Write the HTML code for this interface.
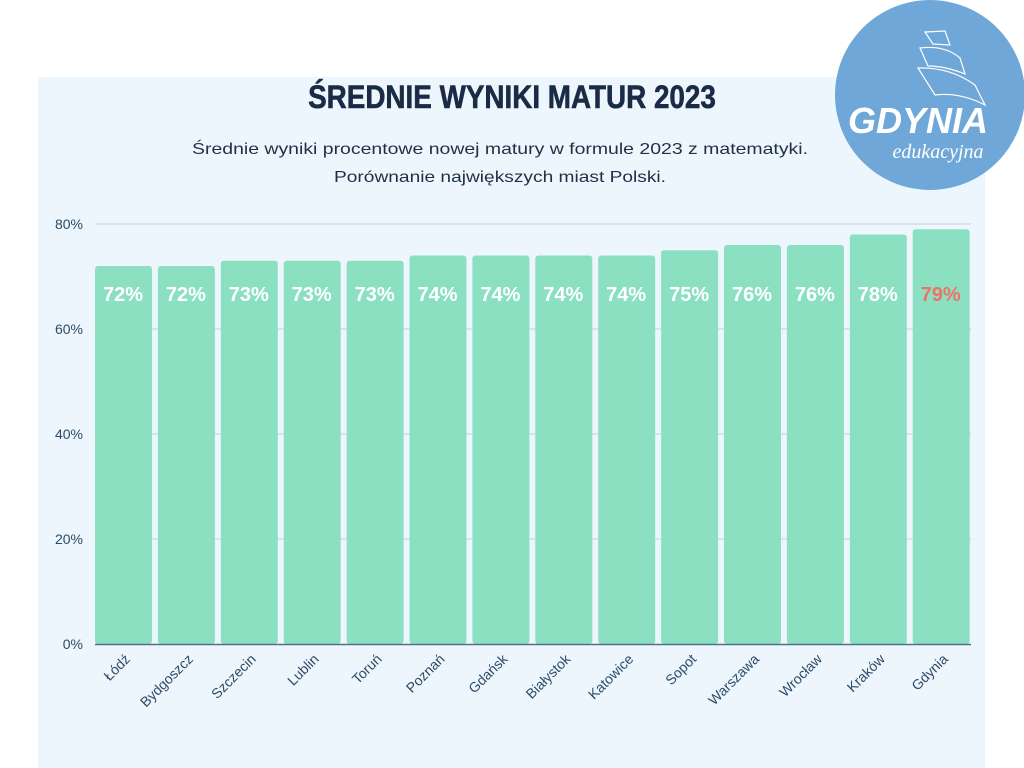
<!DOCTYPE html>
<html><head><meta charset="utf-8"><style>
body{margin:0;width:1024px;height:768px;background:#fff;overflow:hidden;font-family:"Liberation Sans",sans-serif;}
</style></head><body>
<svg width="1024" height="768" xmlns="http://www.w3.org/2000/svg" style="position:absolute;left:0;top:0">
<rect x="38" y="77" width="947" height="691" fill="#eef6fd"/>
<text x="512" y="108" text-anchor="middle" font-family="Liberation Sans Narrow, Liberation Sans, sans-serif" font-weight="bold" font-size="32" fill="#1a2b45" stroke="#1a2b45" stroke-width="0.6" transform="translate(512 0) scale(0.87 1) translate(-512 0)">ŚREDNIE WYNIKI MATUR 2023</text>
<text x="500" y="154" text-anchor="middle" font-size="16" fill="#1f2f44" textLength="616" lengthAdjust="spacingAndGlyphs">Średnie wyniki procentowe nowej matury w formule 2023 z matematyki.</text>
<text x="500" y="182" text-anchor="middle" font-size="16" fill="#1f2f44" textLength="332" lengthAdjust="spacingAndGlyphs">Porównanie największych miast Polski.</text>
<g font-size="14" fill="#2c4a66" text-anchor="end">
<text x="83" y="229">80%</text><text x="83" y="334">60%</text><text x="83" y="439">40%</text><text x="83" y="544">20%</text><text x="83" y="649">0%</text>
</g>
<g stroke="#c4d0dc" stroke-width="1">
<line x1="95" y1="224" x2="971" y2="224"/><line x1="95" y1="329" x2="971" y2="329"/><line x1="95" y1="434" x2="971" y2="434"/><line x1="95" y1="539" x2="971" y2="539"/>
</g>
<g id="bars"></g>
<line x1="95" y1="644.5" x2="971" y2="644.5" stroke="#4f6f8a" stroke-width="1.5"/>
<circle cx="930" cy="95" r="95" fill="#6fa8d8"/>
<g fill="none" stroke="#fff" stroke-width="1.2">
<path d="M925 32 L945 31 L950 45 L933 44 Z"/>
<path d="M920 48 Q945 45 960 58 L965 74 Q945 66 928 66 Z"/>
<path d="M918 68 Q950 67 975 85 L985 105 Q960 92 935 95 Z"/>
</g>
<text x="918" y="133" text-anchor="middle" font-size="36" font-weight="bold" font-style="italic" fill="#fff">GDYNIA</text>
<text x="938" y="158" text-anchor="middle" font-size="20" font-style="italic" font-family="Liberation Serif, serif" fill="#fff">edukacyjna</text>
</svg>
<script>
var d=[["Łódź",72],["Bydgoszcz",72],["Szczecin",73],["Lublin",73],["Toruń",73],["Poznań",74],["Gdańsk",74],["Białystok",74],["Katowice",74],["Sopot",75],["Warszawa",76],["Wrocław",76],["Kraków",78],["Gdynia",79]];
var s="";
d.forEach(function(e,i){var x=95+i*62.9,y=644-e[1]*5.25,c=x+28;
s+='<rect x="'+x+'" y="'+y+'" width="57" height="'+(644-y)+'" rx="3" fill="#8be0c1"/>';
s+='<text x="'+c+'" y="301" text-anchor="middle" font-size="20" font-weight="bold" fill="'+(i==13?'#f07167':'#fff')+'">'+e[1]+'%</text>';
s+='<text transform="translate('+(c+8)+' 660) rotate(-45)" text-anchor="end" font-size="14" fill="#2c4a66">'+e[0]+'</text>';});
document.getElementById("bars").innerHTML=s;
</script>
</body></html>
